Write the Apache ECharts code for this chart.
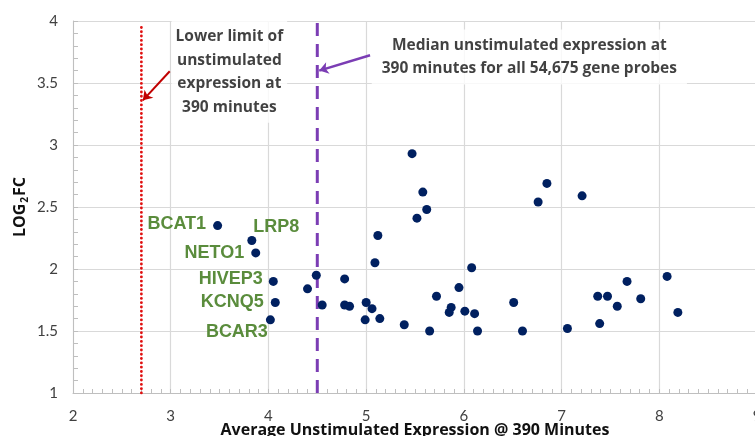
<!DOCTYPE html>
<html>
<head>
<meta charset="utf-8">
<script src="https://cdn.jsdelivr.net/npm/echarts@6/dist/echarts.min.js"></script>
<style>
  html, body { margin: 0; padding: 0; background: #fff; }
  #chart { width: 755px; height: 436px; }
</style>
</head>
<body>
<div id="chart"></div>
<script>
// unlabelled probes: average unstimulated expression and log2 fold change
const expression = [4.40, 4.49, 4.55, 4.78, 4.78, 4.83, 5.00, 4.99, 5.06, 5.12, 5.09, 5.14,
  5.52, 5.62, 6.76, 5.72, 5.95, 6.08, 5.87, 5.85, 6.01, 6.11, 5.39, 5.65, 6.14, 6.51, 6.60,
  7.06, 7.37, 7.47, 7.67, 7.57, 7.81, 7.39, 8.08, 8.19, 5.47, 5.58, 6.85, 7.21];
const log2fc = [1.84, 1.95, 1.71, 1.92, 1.71, 1.70, 1.73, 1.59, 1.68, 2.27, 2.05, 1.60,
  2.41, 2.48, 2.54, 1.78, 1.85, 2.01, 1.69, 1.65, 1.66, 1.64, 1.55, 1.50, 1.50, 1.73, 1.50,
  1.52, 1.78, 1.78, 1.90, 1.70, 1.76, 1.56, 1.94, 1.65, 2.93, 2.62, 2.69, 2.59];

// named genes
const geneNames = ['BCAT1', 'LRP8', 'NETO1', 'HIVEP3', 'KCNQ5', 'BCAR3'];
const geneExpression = [3.48, 3.83, 3.87, 4.05, 4.07, 4.02];
const geneLog2fc = [2.35, 2.23, 2.13, 1.90, 1.73, 1.59];

// reference lines
const lowerLimit = 2.7;
const medianExpression = 4.5;

// annotation texts
const lowerLimitText = 'Lower limit of\nunstimulated\nexpression at\n390 minutes';
const medianText = 'Median unstimulated expression at\n390 minutes for all 54,675 gene probes';

const xTitle = 'Average Unstimulated Expression @ 390 Minutes';

const fontFamily = 'Lato, "Open Sans", sans-serif';
const titleFont = '"Open Sans", Lato, sans-serif';
const gridColor = '#d9d9d9';

// where each gene label sits relative to its dot
const geneLabelPlace = [
  { position: 'left', distance: 7, offset: [0, -2] },
  { position: 'right', distance: 0, offset: [-3, -13] },
  { position: 'left', distance: 7, offset: [0, 0] },
  { position: 'left', distance: 6, offset: [0, -2] },
  { position: 'left', distance: 7, offset: [0, 0] },
  { position: 'left', distance: 0, offset: [2, 12] }
];

const chart = echarts.init(document.getElementById('chart'));

const points = expression.map((x, i) => [x, log2fc[i]]);
const genePoints = geneNames.map((name, i) => ({
  value: [geneExpression[i], geneLog2fc[i]],
  name: name,
  label: geneLabelPlace[i]
}));

const option = {
  backgroundColor: '#fff',
  animation: false,
  grid: { left: 73, top: 21, width: 684, height: 372, containLabel: false, outerBoundsMode: 'none' },
  xAxis: {
    type: 'value', min: 2, max: 9, interval: 1,
    name: xTitle, nameLocation: 'middle', nameGap: 29, nameMoveOverlap: false,
    nameTextStyle: { fontFamily: titleFont, fontWeight: 'bold', fontSize: 16, color: '#111', verticalAlign: 'top' },
    axisLine: { show: true, lineStyle: { color: '#bfbfbf', width: 1 } },
    axisTick: { show: true, inside: true, length: 4, lineStyle: { color: '#bfbfbf' } },
    minorTick: { show: true, splitNumber: 10, length: 4, lineStyle: { color: '#bfbfbf' } },
    axisLabel: { fontFamily: fontFamily, fontSize: 15, color: '#404040', margin: 16 },
    splitLine: { show: true, lineStyle: { color: gridColor, width: 1.2 } }
  },
  yAxis: {
    type: 'value', min: 1, max: 4, interval: 0.5,
    name: 'LOG{s|2}FC', nameLocation: 'middle', nameGap: 43, nameRotate: 90, nameMoveOverlap: false,
    nameTextStyle: {
      fontFamily: titleFont, fontWeight: 'bold', fontSize: 16, color: '#111',
      rich: { s: { fontFamily: titleFont, fontWeight: 'bold', fontSize: 10, color: '#111', padding: [9, 1, 0, 1] } }
    },
    axisLine: { show: true, lineStyle: { color: '#bfbfbf', width: 1 } },
    axisTick: { show: true, inside: true, length: 5, lineStyle: { color: '#bfbfbf' } },
    minorTick: { show: true, splitNumber: 5, length: 5, lineStyle: { color: '#bfbfbf' } },
    axisLabel: {
      fontFamily: fontFamily, fontSize: 15, color: '#404040', margin: 15,
      formatter: v => String(v)
    },
    splitLine: { show: true, lineStyle: { color: gridColor, width: 1.2 } }
  },
  series: [
    {
      type: 'line', name: 'lower limit',
      data: [[lowerLimit, 1], [lowerLimit, 3.97]],
      symbol: 'none', silent: true, z: 3,
      lineStyle: { color: '#e01010', width: 2.8, type: [0.1, 4.2], cap: 'round', opacity: 1 }
    },
    {
      type: 'line', name: 'median',
      data: [[medianExpression, 1], [medianExpression, 4]],
      symbol: 'none', silent: true, z: 3,
      lineStyle: { color: '#7b3db4', width: 3, type: [13, 8], opacity: 1 }
    },
    {
      type: 'scatter', name: 'annotations', symbolSize: 1, z: 4,
      itemStyle: { color: 'rgba(0,0,0,0)' },
      data: [
        { value: [3.60, 3.59], label: { formatter: lowerLimitText, padding: [4, 4] } },
        { value: [6.67, 3.71], label: { formatter: medianText, padding: [4, 10] } }
      ],
      label: {
        show: true, position: 'inside', align: 'center', verticalAlign: 'middle',
        fontFamily: titleFont, fontWeight: 'bold', fontSize: 15.5, lineHeight: 23.5,
        color: '#111', backgroundColor: '#fff'
      }
    },
    {
      type: 'lines', coordinateSystem: 'cartesian2d', z: 5,
      symbol: ['none', 'arrow'], symbolSize: 9,
      data: [
        { coords: [[2.99, 3.595], [2.715, 3.36]], lineStyle: { color: '#c00000', width: 2, opacity: 1 } },
        { coords: [[5.04, 3.724], [4.52, 3.60]], lineStyle: { color: '#7b3db4', width: 2.5, opacity: 1 } }
      ]
    },
    {
      type: 'scatter', name: 'probes', symbolSize: 9, z: 6,
      itemStyle: { color: '#002060', opacity: 1 },
      data: points
    },
    {
      type: 'scatter', name: 'genes', symbolSize: 9, z: 6,
      itemStyle: { color: '#002060', opacity: 1 },
      label: {
        show: true, formatter: '{b}',
        fontFamily: '"Liberation Sans", Arial, sans-serif', fontWeight: 'bold', fontSize: 18,
        color: '#5a8c3c'
      },
      data: genePoints
    }
  ]
};

chart.setOption(option);
</script>
</body>
</html>
